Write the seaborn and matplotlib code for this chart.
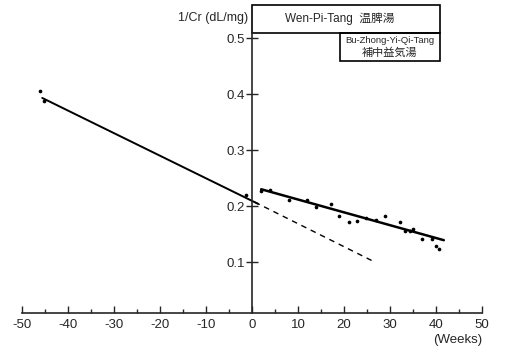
import matplotlib
matplotlib.use("Agg")
import matplotlib.pyplot as plt
import seaborn as sns
import pandas as pd
from matplotlib.patches import Rectangle
from matplotlib.ticker import MultipleLocator

sns.set_style("ticks")
plt.rcParams['font.family'] = ['Liberation Sans', 'Noto Sans CJK JP', 'DejaVu Sans']

# --- data ---
pre_weeks = [-46.1, -45.3, -1.3]
pre_vals = [0.405, 0.388, 0.219]
post_weeks = [2.0, 3.9, 8.1, 11.9, 13.9, 17.1, 19.0, 21.0, 22.9, 24.8, 27.0,
              29.0, 32.2, 33.3, 34.3, 35.1, 37.0, 39.1, 40.1, 40.7]
post_vals = [0.226, 0.228, 0.210, 0.210, 0.199, 0.204, 0.182, 0.171, 0.173, 0.178, 0.175,
             0.182, 0.172, 0.155, 0.155, 0.159, 0.141, 0.141, 0.128, 0.123]
pre_fit_x = [-45.6, 1.3]
pre_fit_y = [0.393, 0.204]
post_fit_x = [2.0, 41.7]
post_fit_y = [0.230, 0.139]
ext_fit_x = [0.6, 26.2]
ext_fit_y = [0.207, 0.102]
x_ticks = [-50, -40, -30, -20, -10, 0, 10, 20, 30, 40, 50]
y_ticks = [0.1, 0.2, 0.3, 0.4, 0.5]

fig = plt.figure(figsize=(5.09, 3.55), dpi=100)
ax = fig.add_axes([22/509, 42/355, 460/509, 280/355])

pts = pd.DataFrame({"w": pre_weeks + post_weeks, "v": pre_vals + post_vals})
sns.scatterplot(data=pts, x="w", y="v", ax=ax, color="black", s=7, linewidth=0, zorder=3)
sns.lineplot(x=pre_fit_x, y=pre_fit_y, ax=ax, color="black", lw=1.4)
sns.lineplot(x=post_fit_x, y=post_fit_y, ax=ax, color="black", lw=1.8)
sns.lineplot(x=ext_fit_x, y=ext_fit_y, ax=ax, color="black", lw=1.0, linestyle=(0, (4, 3.5)))

ax.set_xlim(-50, 50)
ax.set_ylim(0.009, 0.509)
ax.set_xlabel("")
ax.set_ylabel("")
ax.spines['top'].set_visible(False)
ax.spines['right'].set_visible(False)
ax.spines['left'].set_position(('data', 0))
ax.spines['left'].set_linewidth(1.2)
ax.spines['bottom'].set_linewidth(1.2)

ax.set_xticks(x_ticks)
ax.set_xticklabels([str(t) for t in x_ticks])
ax.xaxis.set_minor_locator(MultipleLocator(5))
ax.tick_params(axis='x', which='major', direction='in', length=5, width=1, labelsize=9.5, pad=4)
ax.tick_params(axis='x', which='minor', direction='in', length=3, width=1)
ax.set_yticks(y_ticks)
ax.set_yticklabels([f"{t:.1f}" for t in y_ticks])
ax.tick_params(axis='y', which='major', direction='inout', length=8, width=1, labelsize=9.5, pad=1)

ax.text(-0.8, 0.535, "1/Cr (dL/mg)", ha='right', va='center', fontsize=9,
        transform=ax.transData, clip_on=False)
ax.text(1.0, -0.095, "(Weeks)", ha='right', va='center', fontsize=9.5, transform=ax.transAxes)

# treatment boxes
ax.add_patch(Rectangle((0.5, 1.0), 0.409, 0.1, transform=ax.transAxes, fill=False,
                       edgecolor='black', lw=1.2, clip_on=False))
ax.text(0.69, 1.05, "Wen-Pi-Tang  温脾湯", ha='center', va='center', fontsize=8.5,
        transform=ax.transAxes)
ax.add_patch(Rectangle((0.691, 0.9), 0.218, 0.1, transform=ax.transAxes, fill=False,
                       edgecolor='black', lw=1.2, clip_on=False))
ax.text(0.80, 0.972, "Bu-Zhong-Yi-Qi-Tang", ha='center', va='center', fontsize=6.8,
        transform=ax.transAxes)
ax.text(0.80, 0.928, "補中益気湯", ha='center', va='center', fontsize=8,
        transform=ax.transAxes)

fig.savefig("out.png", dpi=100)
